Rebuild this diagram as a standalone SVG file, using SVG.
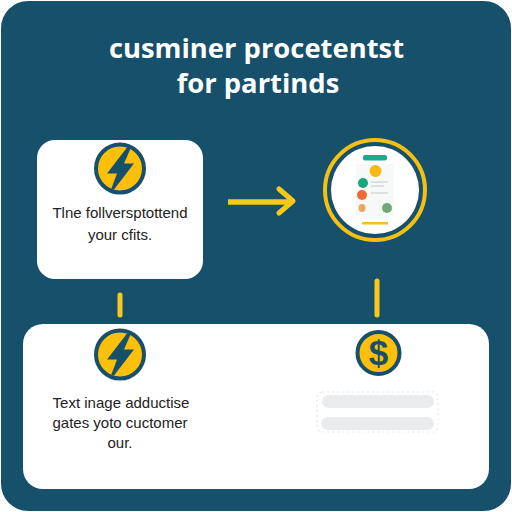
<svg xmlns="http://www.w3.org/2000/svg" width="512" height="512" viewBox="0 0 512 512">
<defs>
<style>
.t{font-family:"Liberation Sans",Arial,sans-serif;text-anchor:middle}
.title{font-family:"Open Sans","Liberation Sans",sans-serif;font-size:27.4px;font-weight:700;fill:#fff}
.body{font-size:15px;fill:#222}
.panel{fill:#fff}
.conn{stroke:#f8c91c;fill:none;stroke-linejoin:round}
.coin{fill:#fcc00a;stroke:#17506a;stroke-width:4}
.mark{fill:#17506a}
.bar{fill:#e9ebec}
.dash{fill:none;stroke:#e6e8e8;stroke-width:1.2;stroke-dasharray:2 3}
</style>
<path id="bolt" d="M7 -21 L-13 5 L-3 5 L-9 21 L-6 21 L14 -5 L4 -5 L11 -21 Z"/>
</defs>
<rect width="512" height="512" fill="#fff"/>
<rect x="1" y="1" width="510" height="510" rx="27" fill="#17506a"/>
<text class="t title" x="256.500" y="58">cusminer procetentst</text>
<text class="t title" x="258" y="92.500">for partinds</text>
<g id="connectors">
<path class="conn" stroke-width="5.500" d="M228 202H291"/>
<path class="conn" stroke-width="5" stroke-linecap="round" d="M279 189L293 201L279 213"/>
<path class="conn" stroke-width="5" stroke-linecap="round" d="M120 295V315"/>
<path class="conn" stroke-width="5" stroke-linecap="round" d="M377 281V315"/>
</g>
<g id="node-top-left">
<rect class="panel" x="37" y="140" width="166" height="139" rx="18"/>
<circle class="coin" cx="120" cy="168.500" r="24"/>
<use href="#bolt" class="mark" x="120" y="168.500"/>
<text class="t body" x="120" y="218">Tlne follversptottend</text>
<text class="t body" x="120" y="240">your cfits.</text>
</g>
<g id="node-phone">
<circle cx="375" cy="190" r="50" fill="none" stroke="#f5c011" stroke-width="4"/>
<circle cx="375" cy="190" r="44" fill="#fff"/>
<rect x="363" y="155" width="24" height="5.500" rx="2" fill="#19a98d"/>
<path d="M356 164H394V216H356Z" fill="#f7f8f8"/>
<circle cx="375.500" cy="171" r="6" fill="#f8b915"/>
<circle cx="363" cy="183" r="5" fill="#1aa57f"/>
<circle cx="362" cy="195" r="5" fill="#ee6a33"/>
<ellipse cx="362" cy="208" rx="3.500" ry="4" fill="#eda65a"/>
<circle cx="387" cy="208" r="5" fill="#6faa78"/>
<path d="M371 182H388M371 186H384M371 193H388" stroke="#c3c8c9" stroke-width="1.200" fill="none"/>
<rect x="362" y="222" width="26" height="2.500" fill="#f5bf1f"/>
</g>
<g id="node-bottom">
<rect class="panel" x="23" y="324" width="466" height="165" rx="20"/>
<circle class="coin" cx="120" cy="354.500" r="24"/>
<use href="#bolt" class="mark" x="120" y="354.500"/>
<text class="t body" x="121" y="408">Text inage adductise</text>
<text class="t body" x="120" y="428">gates yoto cuctomer</text>
<text class="t body" x="120" y="448">our.</text>
<circle class="coin" cx="378.500" cy="353" r="21"/>
<text x="378.500" y="365" text-anchor="middle" font-family="Liberation Sans,Arial,sans-serif" font-size="35" font-weight="700" fill="#17506a">$</text>
<rect class="dash" x="317" y="392" width="121" height="40" rx="5"/>
<rect class="bar" x="322" y="395" width="112" height="13" rx="6.500"/>
<rect class="bar" x="321" y="417" width="113" height="13" rx="6.500"/>
</g>
</svg>
